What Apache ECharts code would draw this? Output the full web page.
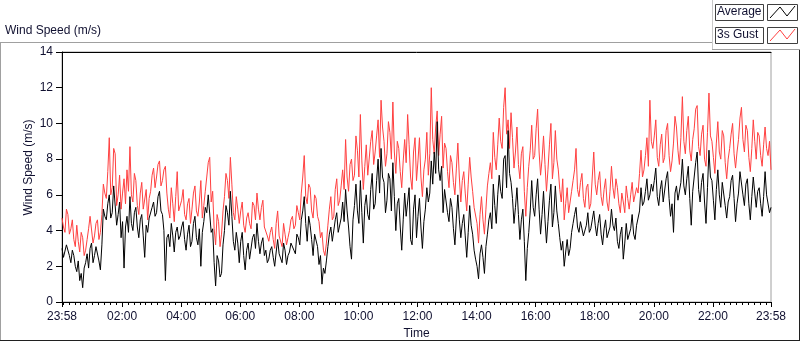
<!DOCTYPE html>
<html lang="en">
<head>
    <meta charset="UTF-8">
    <title>Wind Speed (m/s)</title>
    <script src="https://cdn.jsdelivr.net/npm/echarts@6.0.0/dist/echarts.min.js"></script>
    <style>
        html, body { margin: 0; padding: 0; background: #fff; }
        #chart { width: 800px; height: 342px; }
    </style>
</head>
<body>
    <div id="chart"></div>
    <script>
        // samples every 3 minutes, starting at 23:58 (one row = one hour)
        const stepMinutes = 3;

        const gust = [
            4.7, 4.2, 3.9, 5.2, 4.9, 3.8, 4.1, 4.6, 3.5, 3.1, 4.3, 3.4, 2.8, 3.9, 3.6, 2.6, 2.9, 3.5, 4.1, 4.8,
            4.8, 3.3, 3.7, 4.4, 4.6, 3.5, 3.9, 4.9, 6.6, 6.1, 5.8, 7.3, 9.2, 6.0, 6.4, 8.6, 8.3, 5.4, 6.0, 7.1,
            5.2, 6.1, 6.9, 5.5, 7.4, 6.2, 8.7, 6.0, 5.6, 7.2, 6.8, 5.4, 4.9, 6.1, 6.7, 5.2, 5.3, 6.3, 4.6, 5.8,
            6.2, 7.1, 7.5, 6.4, 7.0, 7.7, 7.9, 6.5, 6.8, 7.4, 7.6, 6.1, 5.2, 4.7, 6.4, 5.5, 4.5, 5.9, 7.3, 5.1,
            5.0, 5.7, 6.3, 4.9, 4.6, 5.5, 5.8, 4.4, 5.2, 6.1, 6.5, 5.1, 4.8, 5.6, 6.8, 4.7, 5.4, 6.2, 7.0, 7.8,
            8.1, 5.6, 6.2, 4.1, 3.2, 4.9, 4.5, 3.1, 3.8, 5.1, 5.9, 7.2, 6.8, 5.8, 8.1, 6.6, 5.0, 4.6, 5.9, 5.2,
            4.4, 5.1, 5.6, 4.3, 3.9, 4.7, 5.0, 4.4, 4.1, 5.6, 5.4, 4.6, 6.1, 5.2, 4.6, 5.3, 5.7, 4.2, 4.3, 3.7,
            3.4, 3.9, 4.2, 3.5, 3.0, 4.4, 5.1, 3.7, 3.6, 3.1, 4.4, 3.8, 3.2, 3.6, 4.0, 4.6, 4.8, 4.1, 4.3, 5.4,
            5.0, 4.6, 6.1, 7.0, 8.2, 5.9, 5.5, 6.6, 6.4, 5.1, 4.7, 6.0, 5.8, 4.8, 4.5, 3.6, 3.9, 2.9, 2.6, 3.3,
            4.3, 5.2, 5.9, 4.6, 4.8, 6.3, 6.9, 5.4, 5.7, 6.5, 7.4, 6.3, 9.1, 7.0, 6.2, 7.7, 8.0, 6.8, 7.1, 9.3,
            8.5, 7.0, 10.5, 7.9, 6.3, 7.6, 8.8, 7.1, 7.2, 9.0, 9.6, 7.7, 8.4, 9.3, 10.2, 8.1, 11.3, 9.8, 9.0, 7.6,
            8.3, 10.1, 9.5, 8.0, 11.2, 8.4, 7.2, 9.0, 8.6, 7.3, 6.4, 7.9, 9.1, 7.8, 10.5, 8.8, 7.0, 6.3, 8.4, 9.2,
            6.8, 7.9, 9.2, 7.0, 5.9, 7.4, 8.0, 9.5, 7.1, 8.3, 12.0, 9.1, 8.3, 9.8, 10.7, 8.2, 9.4, 10.4, 7.5, 8.9,
            8.6, 7.3, 6.4, 8.2, 7.8, 6.7, 6.0, 7.5, 8.9, 7.0, 5.6, 6.8, 7.3, 6.1, 5.1, 6.6, 8.1, 7.0, 6.2, 5.3,
            5.4, 4.4, 3.3, 4.9, 5.9, 4.6, 3.8, 5.2, 6.5, 7.2, 7.8, 6.9, 9.5, 8.1, 7.4, 8.8, 10.3, 9.0, 8.6, 10.9,
            12.0, 9.4, 10.2, 8.6, 10.6, 9.2, 7.5, 8.4, 9.8, 7.7, 6.9, 8.3, 8.7, 6.2, 4.8, 6.4, 7.6, 8.5, 9.9, 8.0,
            8.2, 9.7, 10.8, 8.4, 7.1, 8.0, 9.3, 7.7, 6.2, 7.4, 8.8, 10.0, 6.9, 7.8, 9.6, 8.0, 7.4, 6.3, 5.6, 6.9,
            4.6, 5.5, 6.4, 5.0, 5.1, 6.2, 6.8, 7.4, 8.6, 6.3, 5.9, 6.7, 7.2, 5.8, 5.3, 6.4, 6.6, 5.2, 5.5, 7.0,
            8.4, 6.6, 6.0, 6.8, 7.3, 5.9, 5.4, 6.3, 6.9, 5.6, 5.1, 6.2, 7.6, 6.4, 5.8, 6.9, 6.4, 5.5, 5.0, 6.1,
            5.6, 5.0, 6.5, 5.8, 5.2, 6.0, 6.7, 5.6, 5.5, 6.4, 6.1, 7.2, 8.5, 7.0, 7.4, 8.2, 9.2, 7.6, 11.3, 9.0,
            8.6, 9.3, 10.2, 8.1, 7.6, 8.8, 9.4, 7.8, 8.1, 9.6, 10.0, 8.2, 7.3, 7.9, 8.9, 10.4, 9.8, 8.5, 7.7, 9.2,
            11.5, 9.0, 8.3, 9.6, 10.4, 8.5, 7.9, 9.1, 9.7, 10.8, 11.0, 8.7, 8.2, 9.4, 9.9, 8.0, 7.6, 9.5, 11.7, 9.3,
            9.0, 8.1, 7.2, 8.9, 10.1, 8.4, 8.0, 9.6, 9.3, 7.8, 6.9, 8.0, 8.6, 9.4, 10.0, 8.3, 7.5, 8.4, 9.1, 10.3,
            10.9, 9.1, 8.4, 9.9, 9.6, 8.1, 7.3, 8.6, 10.2, 9.0, 8.0, 9.5, 9.3, 8.2, 7.6, 8.8, 9.8, 8.6, 8.2, 9.0,
            7.4
        ];

        const average = [
            3.0, 2.5, 2.4, 3.2, 3.1, 2.6, 2.2, 2.9, 2.6, 2.0, 1.7, 2.3, 1.2, 1.6, 0.8, 1.9, 2.2, 2.7, 1.9, 3.0,
            3.3, 2.2, 2.6, 3.1, 3.0, 2.3, 1.8, 3.2, 5.2, 4.8, 4.6, 5.5, 6.0, 4.7, 5.0, 6.5, 6.4, 4.3, 4.9, 5.6,
            3.6, 4.5, 1.9, 4.2, 4.8, 3.9, 5.9, 4.4, 4.0, 5.0, 5.3, 4.2, 3.6, 4.6, 4.9, 3.7, 2.5, 4.3, 3.9, 4.7,
            4.6, 5.3, 5.6, 4.8, 5.0, 5.9, 6.2, 5.1, 4.9, 4.0, 1.2, 3.6, 3.8, 3.1, 4.4, 3.7, 2.8, 3.9, 4.2, 3.5,
            3.7, 4.2, 4.5, 3.5, 2.9, 3.8, 4.3, 3.1, 3.4, 4.4, 4.8, 3.6, 3.2, 4.1, 2.0, 3.9, 4.5, 5.3, 5.0, 6.0,
            6.0, 3.9, 4.1, 2.2, 0.9, 2.6, 2.3, 1.4, 1.6, 3.2, 4.0, 5.4, 5.0, 4.3, 6.2, 4.8, 3.4, 2.9, 3.9, 3.3,
            2.2, 3.4, 3.9, 2.6, 1.8, 2.9, 3.3, 2.4, 2.5, 3.6, 3.8, 3.0, 4.4, 3.4, 2.7, 3.3, 3.6, 2.6, 2.9, 2.2,
            2.4, 2.9, 3.1, 2.5, 2.0, 2.8, 3.5, 2.7, 2.6, 2.2, 3.3, 2.9, 2.1, 2.6, 2.8, 3.3, 3.4, 2.9, 2.7, 3.8,
            3.6, 3.2, 4.6, 5.1, 5.9, 4.4, 3.4, 4.8, 4.3, 3.5, 2.6, 3.8, 3.9, 3.1, 2.1, 2.6, 1.0, 1.9, 1.6, 2.3,
            3.1, 3.8, 4.2, 3.4, 3.3, 4.6, 5.0, 3.9, 3.8, 4.7, 5.6, 4.5, 6.3, 5.1, 4.2, 3.1, 2.4, 4.6, 5.4, 6.6,
            5.1, 4.4, 6.8, 5.0, 3.3, 5.4, 6.0, 4.9, 4.6, 6.3, 7.2, 5.2, 5.5, 6.8, 8.0, 6.1, 8.6, 7.0, 6.7, 5.0,
            5.7, 7.2, 6.9, 5.1, 7.8, 5.9, 4.0, 5.5, 5.8, 4.2, 2.9, 4.6, 6.1, 4.8, 5.6, 6.4, 3.5, 3.2, 5.2, 6.0,
            3.6, 4.8, 5.8, 4.2, 3.0, 4.5, 5.2, 6.4, 5.6, 6.1, 7.9, 6.6, 8.4, 7.2, 10.1, 7.4, 6.8, 7.6, 5.0, 6.3,
            6.2, 5.0, 4.5, 5.8, 5.3, 4.1, 3.2, 4.7, 6.0, 4.6, 3.6, 4.4, 4.9, 3.7, 2.5, 3.9, 5.4, 4.3, 3.8, 2.9,
            2.4, 2.0, 1.3, 2.7, 3.2, 2.5, 1.6, 3.1, 3.8, 4.6, 5.0, 4.1, 6.6, 5.4, 4.4, 6.0, 7.1, 6.2, 5.8, 8.0,
            8.2, 6.4, 9.6, 7.2, 6.7, 5.8, 4.4, 5.3, 6.4, 4.9, 3.5, 4.6, 5.2, 3.4, 1.2, 3.0, 3.9, 5.1, 6.8, 5.3,
            4.8, 6.0, 6.9, 5.2, 3.8, 4.9, 6.2, 4.6, 3.3, 4.5, 5.7, 6.6, 4.2, 5.0, 6.5, 5.1, 4.4, 3.6, 2.9, 3.4,
            2.0, 2.8, 3.5, 2.6, 3.0, 3.9, 4.4, 4.9, 5.3, 4.2, 3.9, 4.5, 4.6, 3.7, 3.6, 4.3, 5.0, 3.9, 4.1, 4.6,
            5.1, 4.3, 3.7, 4.4, 4.9, 3.8, 3.2, 4.1, 4.6, 3.6, 3.5, 4.2, 5.2, 4.3, 4.0, 4.7, 3.4, 3.0, 3.8, 4.2,
            2.4, 3.3, 4.4, 3.5, 3.6, 4.1, 4.9, 3.8, 3.5, 4.3, 4.2, 5.1, 6.4, 5.4, 5.6, 6.2, 6.9, 5.7, 6.0, 6.6,
            6.2, 6.8, 7.5, 5.9, 5.4, 6.3, 6.8, 5.6, 5.7, 6.9, 7.3, 5.8, 4.8, 5.5, 3.9, 6.1, 6.5, 5.7, 5.6, 6.7,
            8.0, 6.5, 6.0, 6.9, 7.6, 5.8, 4.3, 6.2, 7.0, 7.8, 8.4, 6.3, 5.6, 6.7, 7.2, 5.6, 4.4, 6.4, 8.5, 7.0,
            6.8, 5.7, 4.6, 6.3, 7.4, 6.0, 5.3, 6.7, 6.6, 5.4, 4.7, 5.6, 5.9, 6.8, 7.1, 5.8, 4.5, 5.5, 6.1, 7.3,
            7.2, 6.0, 5.4, 6.6, 6.9, 5.5, 4.6, 5.9, 7.0, 6.1, 5.3, 6.2, 6.4, 5.5, 4.8, 5.9, 7.3, 6.0, 5.9, 5.0,
            5.3
        ];

        // minutes after 23:58 where the labelled ticks sit
        const tickMinutes = [0, 122, 242, 362, 482, 602, 722, 842, 962, 1082, 1202, 1322, 1440];
        const tickLabels = ['23:58', '02:00', '04:00', '06:00', '08:00', '10:00', '12:00',
                            '14:00', '16:00', '18:00', '20:00', '22:00', '23:58'];

        const minorTicks = [];
        for (let m = 2; m < 1440; m += 12) minorTicks.push(m);

        const toPairs = arr => arr.map((v, i) => [i * stepMinutes, v]);

        const font = 'Liberation Sans';
        const txt = '#101030';

        const chart = echarts.init(document.getElementById('chart'), null, { renderer: 'canvas' });

        chart.setOption({
            animation: false,
            backgroundColor: '#fff',
            textStyle: { fontFamily: font },
            grid: {
                left: 62, right: 29, top: 52, bottom: 40,
                outerBoundsMode: 'none', containLabel: false,
                show: true, borderColor: '#a0a0a0', borderWidth: 1
            },
            xAxis: [{
                type: 'value', min: 0, max: 1440,
                name: 'Time', nameLocation: 'middle', nameGap: 26, nameMoveOverlap: false,
                nameTextStyle: { color: txt, fontSize: 12, fontFamily: font },
                axisLine: { show: true, onZero: false, lineStyle: { color: '#000', width: 1 } },
                axisTick: { show: true, customValues: tickMinutes, length: 5, lineStyle: { color: '#000' } },
                axisLabel: {
                    customValues: tickMinutes, margin: 9, color: txt, fontSize: 12, fontFamily: font,
                    formatter: v => tickLabels[tickMinutes.indexOf(v)] || ''
                },
                splitLine: { show: false }
            }, {
                type: 'value', min: 0, max: 1440, position: 'bottom',
                axisLine: { show: false },
                axisTick: { show: true, customValues: minorTicks, length: 3, lineStyle: { color: '#000' } },
                axisLabel: { show: false },
                splitLine: { show: false }
            }, {
                type: 'value', min: 0, max: 1440, position: 'top',
                axisLine: { show: true, lineStyle: { color: '#000', width: 1 } },
                axisTick: { show: false },
                axisLabel: { show: false },
                splitLine: { show: false }
            }],
            yAxis: {
                type: 'value', min: 0, max: 14, interval: 2,
                name: 'Wind Speed (m/s)', nameLocation: 'middle', nameGap: 27, nameRotate: 90, nameMoveOverlap: false,
                nameTextStyle: { color: txt, fontSize: 12, fontFamily: font, padding: [0, 0, 0, 19] },
                axisLine: { show: true, lineStyle: { color: '#000', width: 1 } },
                axisTick: { show: true, length: 6, lineStyle: { color: '#000' } },
                axisLabel: { margin: 9, color: txt, fontSize: 12, fontFamily: font },
                splitLine: { show: false }
            },
            series: [{
                name: '3s Gust', type: 'line', data: toPairs(gust),
                showSymbol: false, lineStyle: { color: '#ff4040', width: 1 }, itemStyle: { color: '#ff4040' }
            }, {
                name: 'Average', type: 'line', data: toPairs(average),
                showSymbol: false, lineStyle: { color: '#000', width: 1 }, itemStyle: { color: '#000' }
            }],
            graphic: [
                // outer frame
                { type: 'line', shape: { x1: 0, y1: 42.5, x2: 712, y2: 42.5 }, style: { stroke: '#a0a0a0' } },
                { type: 'line', shape: { x1: 0.5, y1: 42, x2: 0.5, y2: 341 }, style: { stroke: '#a0a0a0' } },
                { type: 'line', shape: { x1: 0, y1: 340.5, x2: 800, y2: 340.5 }, style: { stroke: '#202020' } },
                { type: 'line', shape: { x1: 799.5, y1: 49, x2: 799.5, y2: 341 }, style: { stroke: '#202020' } },
                // graph label
                { type: 'text', left: 5, top: 25, style: { text: 'Wind Speed (m/s)', fontSize: 12, fontFamily: font, fill: txt } },
                // legend panel
                { type: 'line', shape: { x1: 712.5, y1: 0, x2: 712.5, y2: 49.5 }, style: { stroke: '#c8c8c8' } },
                { type: 'line', shape: { x1: 712, y1: 49.5, x2: 800, y2: 49.5 }, style: { stroke: '#a0a0a0' } },
                { type: 'rect', shape: { x: 715.5, y: 4.5, width: 48, height: 16 }, style: { fill: '#fff', stroke: '#404040' } },
                { type: 'text', left: 717, top: 6, style: { text: 'Average', fontSize: 12, fontFamily: font, fill: txt } },
                { type: 'rect', shape: { x: 767.5, y: 4.5, width: 30, height: 16 }, style: { fill: '#fff', stroke: '#404040' } },
                { type: 'polyline', shape: { points: [[770, 18], [780, 7], [787, 16], [795, 6]] }, style: { stroke: '#000', fill: null } },
                { type: 'rect', shape: { x: 715.5, y: 27.5, width: 48, height: 16 }, style: { fill: '#fff', stroke: '#404040' } },
                { type: 'text', left: 717, top: 29, style: { text: '3s Gust', fontSize: 12, fontFamily: font, fill: txt } },
                { type: 'rect', shape: { x: 767.5, y: 27.5, width: 30, height: 16 }, style: { fill: '#fff', stroke: '#404040' } },
                { type: 'polyline', shape: { points: [[770, 41], [780, 30], [787, 39], [795, 29]] }, style: { stroke: '#ff4040', fill: null } }
            ]
        });
    </script>
</body>
</html>
